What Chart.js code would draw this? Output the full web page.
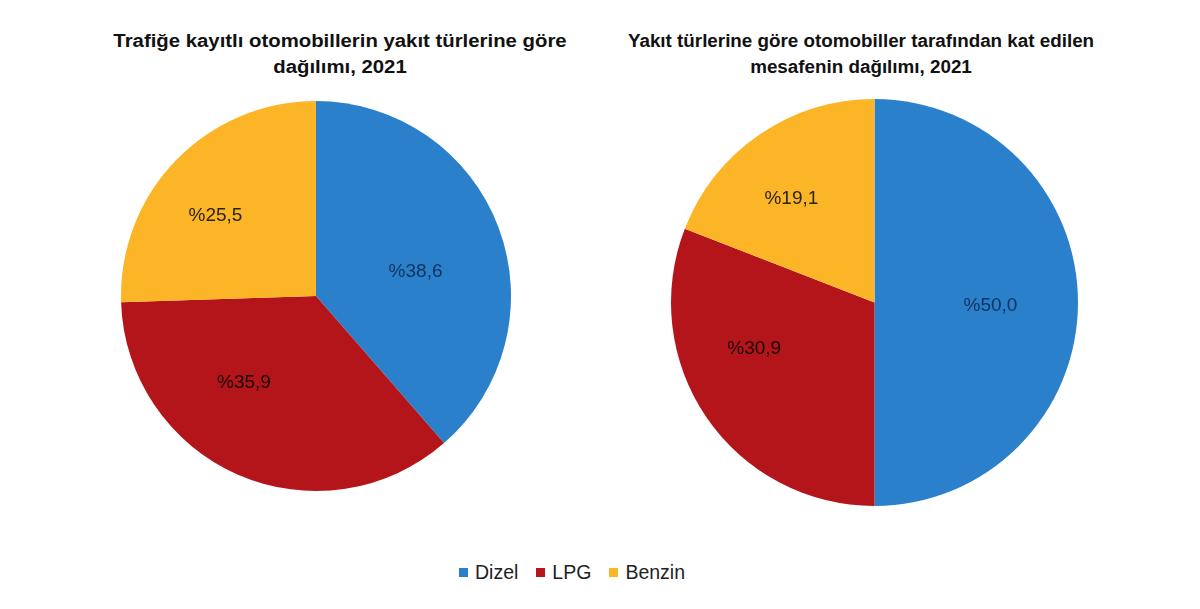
<!DOCTYPE html>
<html>
<head>
<meta charset="utf-8">
<script src="https://cdn.jsdelivr.net/npm/chart.js@4.4.1/dist/chart.umd.min.js"></script>
<style>
  html, body { margin:0; padding:0; background:#fff; }
  body { width:1200px; height:609px; position:relative; overflow:hidden; font-family:"Liberation Sans", Arial, sans-serif; }
  .title { position:absolute; font-weight:bold; font-size:18px; line-height:26px; color:#111; text-align:center; white-space:nowrap; }
  .box { position:absolute; }
  .legend { position:absolute; left:0; width:1144px; top:561px; display:flex; justify-content:center; font-size:19.5px; color:#222; }
  .legend span.item { display:flex; align-items:center; margin:0 9px; }
  .legend span.sw { width:9px; height:9px; display:inline-block; margin-right:7px; }
</style>
</head>
<body>
<div class="title" style="left:340px; top:28px; transform:translateX(-50%) scaleX(1.13);">Trafiğe kayıtlı otomobillerin yakıt türlerine göre<br>dağılımı, 2021</div>
<div class="title" style="left:861px; top:28px; transform:translateX(-50%) scaleX(1.045);">Yakıt türlerine göre otomobiller tarafından kat edilen<br>mesafenin dağılımı, 2021</div>
<div class="box" style="left:116px; top:96px; width:400px; height:400px;"><canvas id="c1"></canvas></div>
<div class="box" style="left:666px; top:94px; width:417px; height:417px;"><canvas id="c2"></canvas></div>
<div class="legend" id="legend"></div>
<script>
const categories = ["Dizel", "LPG", "Benzin"];
const registeredShare = [38.6, 35.9, 25.5];
const distanceShare = [50.0, 30.9, 19.1];

const sliceColors = ["#2a80cb", "#b3151a", "#fbb526"];
const labelColors = ["#10335e", "#1a0a0a", "#2a2410"];

// label placement: [angle offset in degrees from slice middle, fraction of radius]
const labelPlace1 = [[7, 0.525], [16, 0.58], [-5.5, 0.66]];
const labelPlace2 = [[1.5, 0.57], [13.4, 0.633], [-4.2, 0.655]];

function fmt(v) { return "%" + v.toFixed(1).replace(".", ","); }

const pieLabels = {
  id: "pieLabels",
  afterDatasetsDraw(chart, args, opts) {
    const ctx = chart.ctx;
    const meta = chart.getDatasetMeta(0);
    const data = chart.data.datasets[0].data;
    ctx.save();
    ctx.font = "19px 'Liberation Sans', Arial, sans-serif";
    ctx.textAlign = "center";
    ctx.textBaseline = "middle";
    meta.data.forEach((arc, i) => {
      const p = arc.getProps(["x", "y", "startAngle", "endAngle", "outerRadius"], true);
      const place = opts.place[i];
      const mid = (p.startAngle + p.endAngle) / 2 + place[0] * Math.PI / 180;
      const r = p.outerRadius * place[1];
      ctx.fillStyle = labelColors[i];
      ctx.fillText(fmt(data[i]), p.x + r * Math.cos(mid), p.y + r * Math.sin(mid));
    });
    ctx.restore();
  }
};

function makePie(id, values, place) {
  return new Chart(document.getElementById(id), {
    type: "pie",
    data: {
      labels: categories,
      datasets: [{ data: values, backgroundColor: sliceColors, borderWidth: 0, hoverOffset: 0 }]
    },
    options: {
      responsive: true,
      maintainAspectRatio: false,
      animation: false,
      layout: { padding: 5 },
      plugins: {
        legend: { display: false },
        tooltip: { enabled: false },
        title: { display: false },
        pieLabels: { place: place }
      }
    },
    plugins: [pieLabels]
  });
}

makePie("c1", registeredShare, labelPlace1);
makePie("c2", distanceShare, labelPlace2);

const leg = document.getElementById("legend");
categories.forEach((c, i) => {
  const it = document.createElement("span");
  it.className = "item";
  const sw = document.createElement("span");
  sw.className = "sw";
  sw.style.background = sliceColors[i];
  it.appendChild(sw);
  it.appendChild(document.createTextNode(c));
  leg.appendChild(it);
});
</script>
</body>
</html>
